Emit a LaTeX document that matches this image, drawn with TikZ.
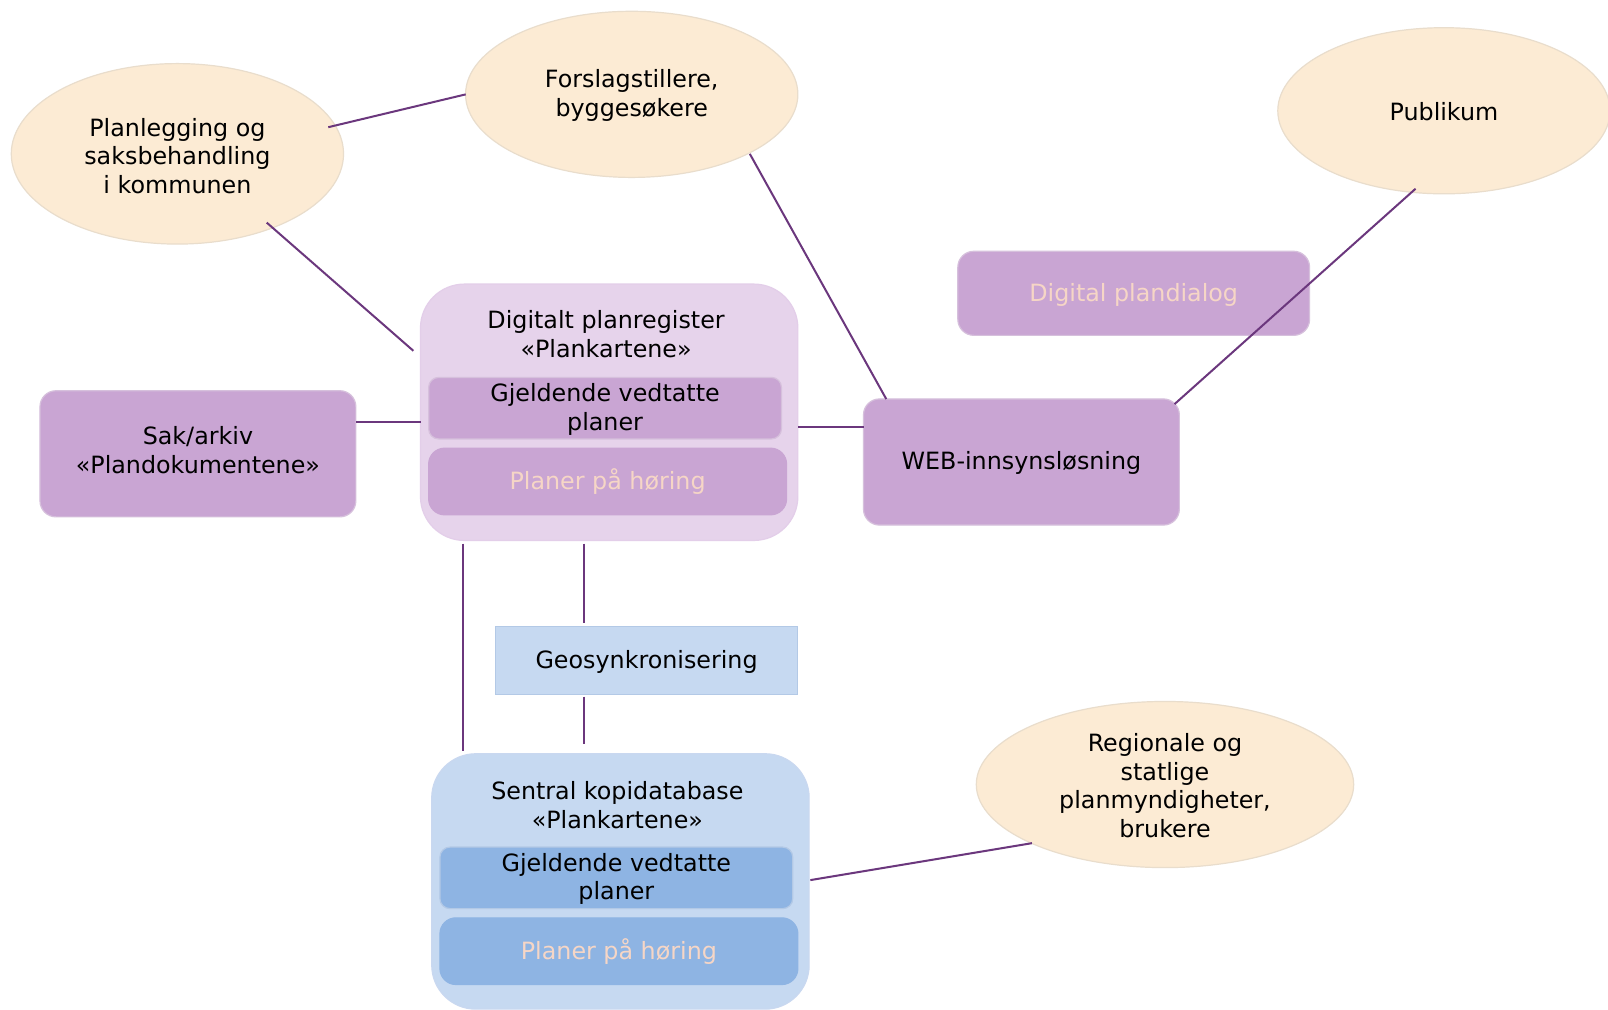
\documentclass[tikz,border=0pt]{standalone}
\usepackage{fontspec}
\setmainfont{DejaVu Sans}
\usetikzlibrary{shapes.geometric}
\definecolor{peach}{HTML}{FCEBD4}
\definecolor{peachedge}{HTML}{E9DDCC}
\definecolor{lilac}{HTML}{E6D3EB}
\definecolor{mauve}{HTML}{C9A5D3}
\definecolor{mauveedge}{HTML}{D6C0DC}
\definecolor{pale}{HTML}{F6D6C6}
\definecolor{skyblue}{HTML}{C6D9F1}
\definecolor{midblue}{HTML}{8EB4E3}
\definecolor{blueedge}{HTML}{B3C9E6}
\definecolor{linkc}{HTML}{6B377D}
\tikzset{
  txt/.style={font=\fontsize{11.6pt}{14pt}\selectfont, align=center, text=black, inner sep=0pt},
  oval/.style={ellipse, fill=peach, draw=peachedge, line width=0.6pt, inner sep=0pt},
  outerbox/.style={rectangle, rounded corners=22pt, line width=0.6pt, inner sep=0pt},
  innerbox/.style={rectangle, rounded corners=5pt, fill=mauve, draw=mauveedge, line width=0.6pt, inner sep=0pt},
  bigbox/.style={rectangle, rounded corners=8pt, fill=mauve, draw=mauveedge, line width=0.6pt, inner sep=0pt},
  link/.style={draw=linkc, line width=1pt},
}
\begin{document}
\begin{tikzpicture}[x=0.5pt,y=-0.5pt,scale=1.02564,every node/.append style={transform shape}]
\useasboundingbox[fill=white] (0,0) rectangle (1568,984);

% ellipses
\node[oval, minimum width=162pt, minimum height=88pt] (plan) at (173,150) {};
\node[txt] (plant) at (173,152) {Planlegging og\\saksbehandling\\i kommunen};
\node[oval, minimum width=162pt, minimum height=81pt] (fors) at (616,92) {};
\node[txt] (forst) at (616,93) {Forslagstillere,\\byggesøkere};
\node[oval, minimum width=162pt, minimum height=81pt] (pub) at (1408,108) {};
\node[txt] (pubt) at (1408,109) {Publikum};
\node[oval, minimum width=184pt, minimum height=81pt] (reg) at (1136,765) {};
\node[txt] (regt) at (1136,766) {Regionale og\\statlige\\planmyndigheter,\\brukere};

% Digitalt planregister
\node[outerbox, fill=lilac, draw=lilac!90!mauve, minimum width=184pt, minimum height=125pt] (dpr) at (594,402) {};
\node[txt] (dprt) at (591,326) {Digitalt planregister\\«Plankartene»};
\node[innerbox, minimum width=172pt, minimum height=30pt] (dprg) at (590,398) {};
\node[txt] (dprgt) at (590,399) {Gjeldende vedtatte\\planer};
\node[innerbox, rounded corners=8pt, minimum width=174.5pt, minimum height=32.5pt, draw=mauve] (dprh) at (592.5,469.5) {};
\node[txt, text=pale] (dprht) at (592.5,470) {Planer på høring};

% Sak/arkiv
\node[bigbox, minimum width=154pt, minimum height=61.5pt] (sak) at (193,442.5) {};
\node[txt] (sakt) at (193,439) {Sak/arkiv\\«Plandokumentene»};

% WEB
\node[bigbox, minimum width=154pt, minimum height=61.5pt] (web) at (996,450.5) {};
\node[txt] (webt) at (996,451) {WEB-innsynsløsning};

% Digital plandialog
\node[bigbox, minimum width=171.5pt, minimum height=41pt] (dpd) at (1105.5,286) {};
\node[txt, text=pale] (dpdt) at (1105.5,288) {Digital plandialog};

% Geosynkronisering
\node[rectangle, fill=skyblue, draw=blueedge, line width=0.6pt, minimum width=147.5pt, minimum height=33pt, inner sep=0pt] (geo) at (630.5,644) {};
\node[txt] (geot) at (630.5,645) {Geosynkronisering};

% Sentral kopidatabase
\node[outerbox, fill=skyblue, draw=skyblue!90!lilac, minimum width=184pt, minimum height=124.5pt] (sk) at (605,859.5) {};
\node[txt] (skt) at (602,785) {Sentral kopidatabase\\«Plankartene»};
\node[innerbox, fill=midblue, draw=blueedge, minimum width=172pt, minimum height=30pt] (skg) at (601,856) {};
\node[txt] (skgt) at (601,857) {Gjeldende vedtatte\\planer};
\node[innerbox, rounded corners=8pt, fill=midblue, draw=midblue, minimum width=174.5pt, minimum height=32.5pt] (skh) at (603.5,927.5) {};
\node[txt, text=pale] (skht) at (603.5,928) {Planer på høring};

% connector end points
\coordinate (planR) at (320,124);
\coordinate (forsL) at (454,92);
\coordinate (planB) at (260,217);
\coordinate (dprL) at (403,342);
\coordinate (forsB) at (731,150);
\coordinate (webT) at (864,389);
\coordinate (pubB) at (1380,184);
\coordinate (webR) at (1145,394);
\coordinate (sakR) at (347,411);
\coordinate (dprW) at (410,411);
\coordinate (dprE) at (778,416);
\coordinate (webW) at (842,416);
\coordinate (dprB1) at (451,530);
\coordinate (skT1) at (451,732);
\coordinate (dprB2) at (569,530);
\coordinate (geoT) at (569,607);
\coordinate (geoB) at (569,679);
\coordinate (skT2) at (569,725);
\coordinate (skR) at (790,858);
\coordinate (regL) at (1006,822);

\draw[link] (planR) -- (forsL);
\draw[link] (planB) -- (dprL);
\draw[link] (forsB) -- (webT);
\draw[link] (pubB) -- (webR);
\draw[link] (sakR) -- (dprW);
\draw[link] (dprE) -- (webW);
\draw[link] (dprB1) -- (skT1);
\draw[link] (dprB2) -- (geoT);
\draw[link] (geoB) -- (skT2);
\draw[link] (skR) -- (regL);
\end{tikzpicture}
\end{document}
